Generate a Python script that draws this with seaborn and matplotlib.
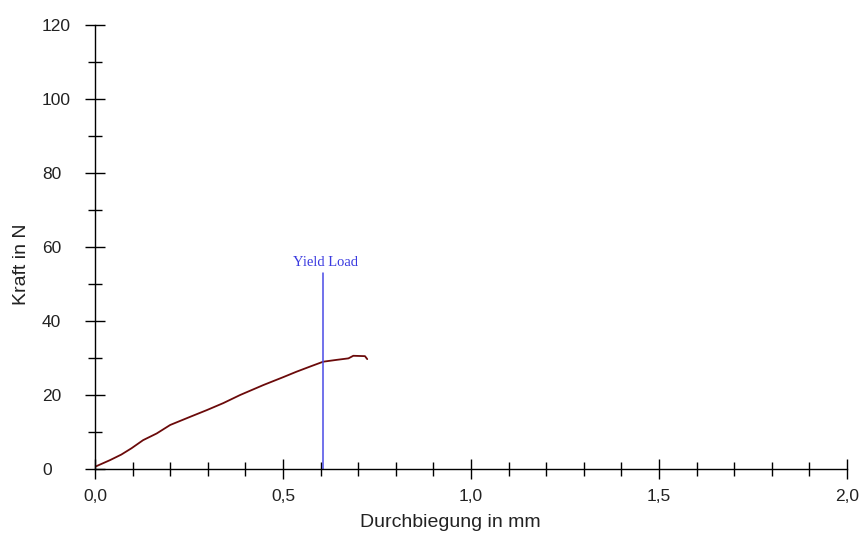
import matplotlib
matplotlib.use("Agg")
import matplotlib.pyplot as plt
import seaborn as sns
import pandas as pd
from matplotlib.ticker import MultipleLocator, FixedLocator, FixedFormatter

# Data
deflection = [0.0, 0.04, 0.07, 0.097, 0.128, 0.164, 0.2, 0.253, 0.297, 0.341,
              0.386, 0.448, 0.5, 0.536, 0.575, 0.607, 0.643, 0.674, 0.687,
              0.718, 0.724]
force = [0.6, 2.4, 3.9, 5.6, 7.8, 9.6, 11.9, 14.1, 15.9, 17.8,
         20.0, 22.7, 24.8, 26.3, 27.8, 29.0, 29.5, 29.9, 30.6,
         30.5, 29.7]
yield_x = 0.607
yield_top = 53.0
yield_label = "Yield Load"

x_ticks = [0.0, 0.5, 1.0, 1.5, 2.0]
x_ticklabels = ["0,0", "0,5", "1,0", "1,5", "2,0"]
y_ticks = [0, 20, 40, 60, 80, 100, 120]
y_ticklabels = ["0", "20", "40", "60", "80", "100", "120"]

sns.set_style("white")
plt.rcParams['font.family'] = ['Liberation Sans', 'DejaVu Sans']

fig = plt.figure(figsize=(8.65, 5.38), dpi=100)
ax = fig.add_axes([95/865, 69/538, (847-95)/865, (469-25)/538])

df = pd.DataFrame({"Durchbiegung": deflection, "Kraft": force})
sns.lineplot(data=df, x="Durchbiegung", y="Kraft", sort=False, estimator=None,
             color="#6b0a0a", linewidth=1.3, ax=ax)

ax.plot([yield_x, yield_x], [0, yield_top], color="#4a4ae6", linewidth=1.1)
ax.text(yield_x + 0.005, yield_top + 1.0, yield_label, color="#3a3ae0",
        family=["Liberation Serif", "DejaVu Serif"], fontsize=10.5,
        ha="center", va="bottom")

ax.set_xlim(0, 2.0)
ax.set_ylim(0, 120)
ax.xaxis.set_major_locator(FixedLocator(x_ticks))
ax.xaxis.set_major_formatter(FixedFormatter(x_ticklabels))
ax.yaxis.set_major_locator(FixedLocator(y_ticks))
ax.yaxis.set_major_formatter(FixedFormatter(y_ticklabels))
ax.xaxis.set_minor_locator(MultipleLocator(0.1))
ax.yaxis.set_minor_locator(MultipleLocator(10))

for s in ["top", "right"]:
    ax.spines[s].set_visible(False)
for s in ["left", "bottom"]:
    ax.spines[s].set_color("black")
    ax.spines[s].set_linewidth(1.0)

ax.tick_params(axis="both", which="both", bottom=True, left=True)
ax.tick_params(axis="both", which="major", direction="inout", length=15, width=1.0,
               color="black", labelsize=12.5, labelcolor="#222222")
ax.tick_params(axis="both", which="minor", direction="inout", length=10, width=1.0,
               color="black")
ax.tick_params(axis="x", which="major", pad=7)
# y tick labels left-aligned at about x=45 px (50 px left of the axis)
ax.tick_params(axis="y", which="major", pad=(50 - 7.5) * 72 / 100)
for lab in ax.get_yticklabels():
    lab.set_horizontalalignment("left")

ax.set_xlabel("Durchbiegung in mm", fontsize=14, color="#222222")
ax.set_ylabel("Kraft in N", fontsize=14, color="#222222")
ax.xaxis.set_label_coords((450 - 95) / 752, (469 - 514) / 444)
ax.yaxis.set_label_coords((30 - 95) / 752, (469 - 264) / 444)

fig.savefig("out.png", dpi=100)
